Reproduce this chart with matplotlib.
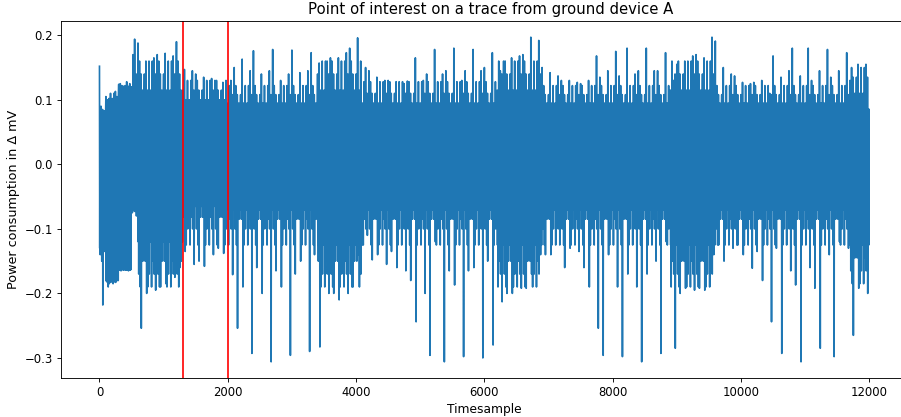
import numpy as np
import matplotlib
matplotlib.use("Agg")
import matplotlib.pyplot as plt

# ---- data (per 100-sample bin: highest / lowest excursion) ----
bin_up = [0.152, 0.098, 0.113, 0.124, 0.128, 0.194, 0.188, 0.16, 0.165, 0.17,
          0.172, 0.168, 0.19, 0.147, 0.145, 0.14, 0.135, 0.133, 0.13, 0.127,
          0.13, 0.15, 0.163, 0.145, 0.176, 0.14, 0.145, 0.178, 0.13, 0.14,
          0.177, 0.142, 0.145, 0.173, 0.157, 0.16, 0.165, 0.165, 0.173, 0.18,
          0.196, 0.15, 0.145, 0.135, 0.13, 0.13, 0.128, 0.125, 0.129, 0.165,
          0.13, 0.14, 0.178, 0.14, 0.145, 0.18, 0.13, 0.145, 0.178, 0.145,
          0.15, 0.173, 0.145, 0.16, 0.165, 0.168, 0.17, 0.197, 0.192, 0.15,
          0.142, 0.137, 0.13, 0.13, 0.127, 0.125, 0.13, 0.168, 0.135, 0.145,
          0.175, 0.137, 0.18, 0.14, 0.145, 0.18, 0.145, 0.145, 0.173, 0.13,
          0.155, 0.16, 0.168, 0.17, 0.165, 0.197, 0.191, 0.15, 0.14, 0.137,
          0.127, 0.125, 0.127, 0.13, 0.11, 0.168, 0.135, 0.145, 0.18, 0.137,
          0.18, 0.13, 0.145, 0.178, 0.135, 0.145, 0.173, 0.13, 0.155, 0.155]
bin_down = [-0.218, -0.19, -0.172, -0.163, -0.163, -0.08, -0.254, -0.2, -0.195, -0.19,
            -0.185, -0.175, -0.16, -0.135, -0.155, -0.15, -0.158, -0.14, -0.13, -0.138,
            -0.171, -0.254, -0.19, -0.293, -0.16, -0.2, -0.306, -0.165, -0.19, -0.296,
            -0.17, -0.15, -0.29, -0.14, -0.283, -0.2, -0.2, -0.21, -0.2, -0.19,
            -0.14, -0.11, -0.148, -0.14, -0.155, -0.135, -0.16, -0.165, -0.18, -0.244,
            -0.2, -0.296, -0.12, -0.306, -0.165, -0.187, -0.298, -0.165, -0.16, -0.3,
            -0.15, -0.28, -0.213, -0.2, -0.2, -0.192, -0.192, -0.17, -0.14, -0.14,
            -0.14, -0.125, -0.16, -0.13, -0.135, -0.16, -0.19, -0.254, -0.296, -0.14,
            -0.19, -0.298, -0.17, -0.19, -0.306, -0.17, -0.15, -0.293, -0.12, -0.285,
            -0.2, -0.192, -0.195, -0.192, -0.195, -0.14, -0.125, -0.15, -0.13, -0.125,
            -0.14, -0.161, -0.135, -0.18, -0.244, -0.13, -0.293, -0.165, -0.187, -0.306,
            -0.16, -0.192, -0.285, -0.14, -0.298, -0.12, -0.13, -0.265, -0.192, -0.2]

# segments of the trace: dense core band and three typical spike levels on each side
seg_start = [0, 100, 300, 500, 600, 1300, 2000, 3350, 4050, 6150, 6900, 8900, 9600, 11650]
seg_core_hi = [0.08, 0.10, 0.12, 0.08, 0.09, 0.088, 0.085, 0.085, 0.085, 0.085, 0.085, 0.085, 0.085, 0.085]
seg_core_lo = [-0.13, -0.18, -0.163, -0.07, -0.12, -0.065, -0.07, -0.125, -0.07, -0.125, -0.07, -0.125, -0.07, -0.125]
seg_hi_1 = [0.09, 0.11, 0.125, 0.17, 0.16, 0.13, 0.122, 0.16, 0.128, 0.16, 0.122, 0.16, 0.122, 0.15]
seg_hi_2 = [0.085, 0.105, 0.122, 0.14, 0.14, 0.115, 0.108, 0.14, 0.11, 0.14, 0.108, 0.14, 0.108, 0.135]
seg_hi_3 = [0.083, 0.102, 0.121, 0.11, 0.115, 0.1, 0.095, 0.115, 0.095, 0.115, 0.095, 0.115, 0.095, 0.11]
seg_lo_1 = [-0.15, -0.185, -0.165, -0.075, -0.19, -0.125, -0.125, -0.19, -0.125, -0.19, -0.125, -0.19, -0.125, -0.185]
seg_lo_2 = [-0.14, -0.183, -0.164, -0.073, -0.17, -0.1, -0.1, -0.17, -0.1, -0.17, -0.1, -0.17, -0.1, -0.165]
seg_lo_3 = [-0.135, -0.182, -0.164, -0.072, -0.15, -0.082, -0.085, -0.15, -0.085, -0.15, -0.085, -0.15, -0.085, -0.145]

poi_samples = [1300, 2000]

n_samples = 12000
bin_size = 100
step = 4
# order of levels visited inside one 100-sample bin (three variants)
hi_orders = [['up', 'c', 'c', 'h1', 'c', 'c', 'h2', 'c', 'c', 'h3', 'c', 'c', 'c'],
             ['h2', 'c', 'c', 'up', 'c', 'c', 'h3', 'c', 'c', 'h1', 'c', 'c', 'c'],
             ['h3', 'c', 'c', 'h1', 'c', 'c', 'up', 'c', 'c', 'h2', 'c', 'c', 'c']]
lo_orders = [['c', 'l2', 'c', 'c', 'l1', 'c', 'down', 'c', 'c', 'l3', 'c', 'c'],
             ['c', 'l3', 'c', 'c', 'down', 'c', 'l1', 'c', 'c', 'l2', 'c', 'c'],
             ['c', 'l1', 'c', 'c', 'l3', 'c', 'l2', 'c', 'c', 'down', 'c', 'c']]

xs, ys = [], []
for k in range(n_samples // bin_size):
    start = k * bin_size
    s = max(i for i, v in enumerate(seg_start) if v <= start)
    hi_levels = {'up': bin_up[k], 'c': seg_core_hi[s], 'h1': seg_hi_1[s],
                 'h2': seg_hi_2[s], 'h3': seg_hi_3[s]}
    lo_levels = {'down': bin_down[k], 'c': seg_core_lo[s], 'l1': seg_lo_1[s],
                 'l2': seg_lo_2[s], 'l3': seg_lo_3[s]}
    hi_o = hi_orders[k % 3]
    lo_o = lo_orders[k % 3]
    j = 0
    for i in range(len(hi_o)):
        xs.append(start + j * step); ys.append(hi_levels[hi_o[i]]); j += 1
        if i < len(lo_o):
            xs.append(start + j * step); ys.append(lo_levels[lo_o[i]]); j += 1
xs = np.array(xs)
ys = np.array(ys)

fig = plt.figure(figsize=(901 / 80, 417 / 80), dpi=80)
ax = fig.add_axes([61 / 901, 39 / 417, (907.5 - 61) / 901, 357 / 417])
ax.plot(xs, ys, color='#1f77b4')
for p in poi_samples:
    ax.axvline(p, color='red')
ax.set_title("Point of interest on a trace from ground device A", fontsize=13.4, x=0.507)
ax.set_xlabel("Timesample", fontsize=11)
ax.set_ylabel("Power consumption in Δ mV", fontsize=11.5)
ax.tick_params(labelsize=10.5)
fig.savefig("out.png", dpi=80)
